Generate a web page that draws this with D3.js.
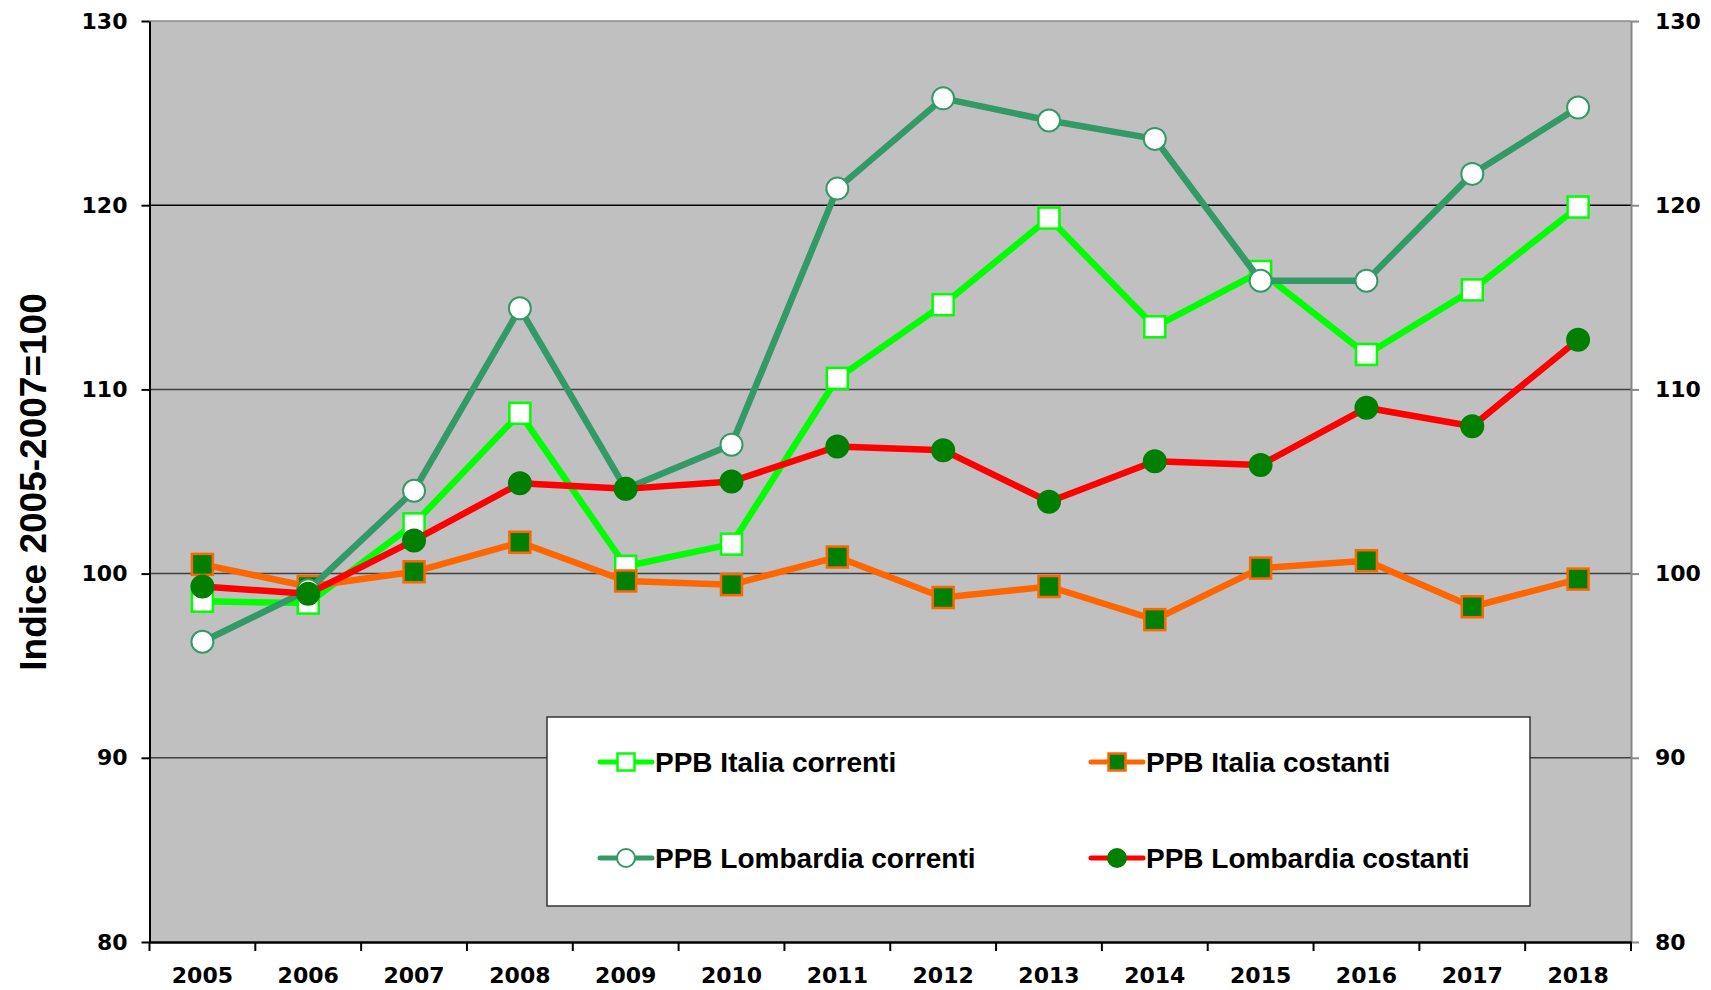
<!DOCTYPE html>
<html>
<head>
<meta charset="utf-8">
<script src="https://cdn.jsdelivr.net/npm/d3@7"></script>
<style>
  body { margin: 0; background: #fff; }
  svg { display: block; }
</style>
</head>
<body>
<div id="chart-area"></div>
<script>
const years = ["2005", "2006", "2007", "2008", "2009", "2010", "2011", "2012", "2013", "2014", "2015", "2016", "2017", "2018"]
const italiaCorrenti = [98.5, 98.4, 102.7, 108.7, 100.4, 101.6, 110.6, 114.6, 119.3, 113.4, 116.4, 111.9, 115.4, 119.9]
const italiaCostanti = [100.5, 99.3, 100.1, 101.7, 99.6, 99.4, 100.9, 98.7, 99.3, 97.5, 100.3, 100.7, 98.2, 99.7]
const lombardiaCorrenti = [96.3, 99.1, 104.5, 114.4, 104.6, 107.0, 120.9, 125.8, 124.6, 123.6, 115.9, 115.9, 121.7, 125.3]
const lombardiaCostanti = [99.3, 98.9, 101.8, 104.9, 104.6, 105.0, 106.9, 106.7, 103.9, 106.1, 105.9, 109.0, 108.0, 112.7]
const yTicks = [80, 90, 100, 110, 120, 130]
const yTitle = "Indice 2005-2007=100"

const WIDTH = 1711
const HEIGHT = 990
const PLOT = { LEFT: 149.5, RIGHT: 1631, TOP: 21, BOTTOM: 942 }

const svg = d3.select("#chart-area").append("svg")
  .attr("width", WIDTH)
  .attr("height", HEIGHT)

// Scales
const x = d3.scaleBand()
  .domain(years)
  .range([PLOT.LEFT, PLOT.RIGHT])
  .padding(0)
const y = d3.scaleLinear()
  .domain([80, 130])
  .range([PLOT.BOTTOM, PLOT.TOP])
const cx = d => x(d) + x.bandwidth() / 2

// Plot background
svg.append("rect")
  .attr("x", PLOT.LEFT)
  .attr("y", PLOT.TOP)
  .attr("width", PLOT.RIGHT - PLOT.LEFT)
  .attr("height", PLOT.BOTTOM - PLOT.TOP)
  .attr("fill", "#c0c0c0")

// Gridlines
svg.append("g")
  .selectAll("line")
  .data(yTicks.filter(d => d > 80 && d < 130))
  .join("line")
  .attr("x1", PLOT.LEFT)
  .attr("x2", PLOT.RIGHT)
  .attr("y1", d => y(d))
  .attr("y2", d => y(d))
  .attr("stroke", d => d === 120 ? "#000" : "#404040")
  .attr("stroke-width", 1.5)

// top border
svg.append("line")
  .attr("x1", PLOT.LEFT).attr("x2", PLOT.RIGHT)
  .attr("y1", PLOT.TOP).attr("y2", PLOT.TOP)
  .attr("stroke", "#888").attr("stroke-width", 1.5)

const tickFont = "'DejaVu Sans', sans-serif"

// Left axis
const yAxisLeft = svg.append("g")
  .attr("transform", `translate(${PLOT.LEFT}, 0)`)
  .call(d3.axisLeft(y).tickValues(yTicks).tickSize(8).tickPadding(14).tickSizeOuter(0))
yAxisLeft.select(".domain").attr("stroke", "#000").attr("stroke-width", 2)
yAxisLeft.selectAll(".tick line").attr("stroke", "#000").attr("stroke-width", 2)
yAxisLeft.selectAll(".tick text")
  .attr("font-family", tickFont)
  .attr("font-weight", "bold")
  .attr("font-size", "22px")
  .attr("fill", "#000")

// Right axis
const yAxisRight = svg.append("g")
  .attr("transform", `translate(${PLOT.RIGHT}, 0)`)
  .call(d3.axisRight(y).tickValues(yTicks).tickSize(8).tickPadding(16).tickSizeOuter(0))
yAxisRight.select(".domain").attr("stroke", "#888").attr("stroke-width", 2)
yAxisRight.selectAll(".tick line").attr("stroke", "#888").attr("stroke-width", 2)
yAxisRight.selectAll(".tick text")
  .attr("font-family", tickFont)
  .attr("font-weight", "bold")
  .attr("font-size", "22px")
  .attr("fill", "#000")

// Bottom axis: labels centred in bands, ticks on band edges
const xAxis = svg.append("g")
  .attr("transform", `translate(0, ${PLOT.BOTTOM})`)
  .call(d3.axisBottom(x).tickSize(0).tickPadding(25).tickSizeOuter(0))
xAxis.select(".domain").attr("stroke", "#000").attr("stroke-width", 2.5)
xAxis.selectAll(".tick text")
  .attr("font-family", tickFont)
  .attr("font-weight", "bold")
  .attr("font-size", "22px")
  .attr("fill", "#000")
xAxis.selectAll(".edge")
  .data(years.map(d => x(d)).concat([x.range()[1]]))
  .join("line")
  .attr("class", "edge")
  .attr("x1", d => d).attr("x2", d => d)
  .attr("y1", 0).attr("y2", 9)
  .attr("stroke", "#000")
  .attr("stroke-width", 2)

// Y title
svg.append("text")
  .attr("transform", `translate(46, 482) rotate(-90)`)
  .attr("text-anchor", "middle")
  .attr("font-family", "'Liberation Sans', Arial, sans-serif")
  .attr("font-weight", "bold")
  .attr("font-size", "37px")
  .attr("fill", "#000")
  .text(yTitle)

// Series (drawn in the reference's stacking order)
const series = [
  { name: "PPB Italia correnti", values: italiaCorrenti, line: "#00ff00", width: 6.5,
    shape: "square", fill: "#fff", stroke: "#00ff00" },
  { name: "PPB Italia costanti", values: italiaCostanti, line: "#ff6600", width: 6.5,
    shape: "square", fill: "#007f00", stroke: "#ff6600" },
  { name: "PPB Lombardia correnti", values: lombardiaCorrenti, line: "#339966", width: 6.5,
    shape: "circle", fill: "#fff", stroke: "#339966" },
  { name: "PPB Lombardia costanti", values: lombardiaCostanti, line: "#ff0000", width: 6.5,
    shape: "circle", fill: "#007f00", stroke: "#007f00" }
]

const lineGen = d3.line()
  .x((d, i) => cx(years[i]))
  .y(d => y(d))

function drawMarker(sel, s, size) {
  if (s.shape === "square") {
    sel.append("rect")
      .attr("x", -size / 2).attr("y", -size / 2)
      .attr("width", size).attr("height", size)
      .attr("fill", s.fill)
      .attr("stroke", s.stroke)
      .attr("stroke-width", 2.5)
  } else {
    sel.append("circle")
      .attr("r", size / 2 + 0.5)
      .attr("fill", s.fill)
      .attr("stroke", s.stroke)
      .attr("stroke-width", 2)
  }
}

series.forEach(s => {
  const g = svg.append("g")
  g.append("path")
    .datum(s.values)
    .attr("d", lineGen)
    .attr("fill", "none")
    .attr("stroke", s.line)
    .attr("stroke-width", s.width)
    .attr("stroke-linejoin", "round")
  s.values.forEach((v, i) => {
    const m = g.append("g")
      .attr("transform", `translate(${cx(years[i])}, ${y(v)})`)
    drawMarker(m, s, 21)
  })
})

// Legend
const legend = svg.append("g")
legend.append("rect")
  .attr("x", 547).attr("y", 717)
  .attr("width", 983).attr("height", 189)
  .attr("fill", "#fff")
  .attr("stroke", "#333")
  .attr("stroke-width", 1.5)

const legendPos = [
  { x: 600, y: 762 }, { x: 1091, y: 762 },
  { x: 600, y: 858 }, { x: 1091, y: 858 }
]

series.forEach((s, i) => {
  const p = legendPos[i]
  const row = legend.append("g")
    .attr("transform", `translate(${p.x}, ${p.y})`)
  row.append("line")
    .attr("x1", 0).attr("x2", 52)
    .attr("stroke", s.line)
    .attr("stroke-width", 5)
    .attr("stroke-linecap", "round")
  const m = row.append("g").attr("transform", "translate(26, 0)")
  drawMarker(m, s, 17)
  row.append("text")
    .attr("x", 55)
    .attr("y", 10)
    .attr("font-family", "'Liberation Sans', Arial, sans-serif")
    .attr("font-weight", "bold")
    .attr("font-size", "28px")
    .attr("fill", "#000")
    .text(s.name)
})
</script>
</body>
</html>
